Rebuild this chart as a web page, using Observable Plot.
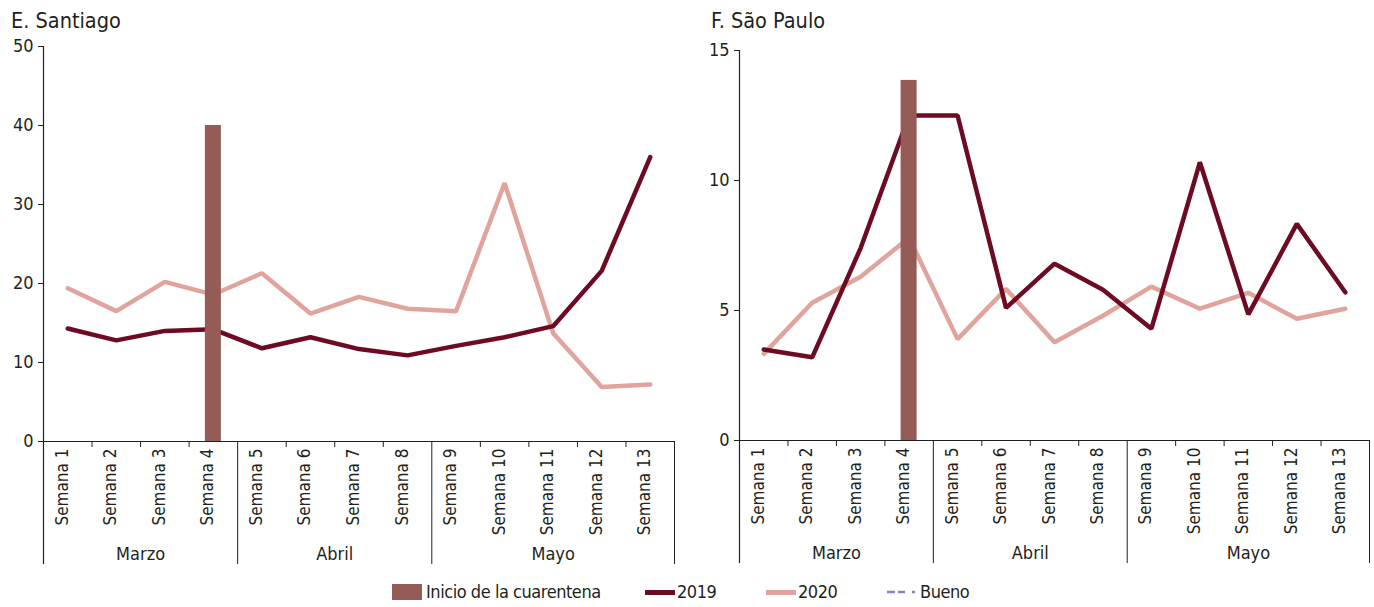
<!DOCTYPE html>
<html>
<head>
<meta charset="utf-8">
<script src="https://cdn.jsdelivr.net/npm/d3@7"></script>
<script src="https://cdn.jsdelivr.net/npm/@observablehq/plot@0.6"></script>
<style>
  html, body { margin: 0; padding: 0; background: #fff; }
  body { font-family: 'DejaVu Sans Condensed', 'DejaVu Sans', sans-serif; font-stretch: condensed; color: #231f20; }
  #wrap { position: relative; width: 1374px; height: 607px; overflow: hidden; }
  .panel { position: absolute; top: 0; }
  .title { position: absolute; top: 8px; font-size: 21.5px; white-space: nowrap; }
  .leg { position: absolute; font-size: 18px; letter-spacing: -0.45px; white-space: nowrap; line-height: 20px; top: 582px; }
</style>
</head>
<body>
<div id="wrap">
  <div class="title" style="left:11px">E. Santiago</div>
  <div class="title" style="left:711px">F. São Paulo</div>
</div>
<script>
// ---- Data ----
const semanas = ["Semana 1","Semana 2","Semana 3","Semana 4","Semana 5","Semana 6","Semana 7",
                 "Semana 8","Semana 9","Semana 10","Semana 11","Semana 12","Semana 13"];
const meses = ["Marzo", "Abril", "Mayo"];
const semanasPorMes = [4, 4, 5];

const santiago2019 = [14.3, 12.8, 14.0, 14.2, 11.8, 13.2, 11.7, 10.9, 12.1, 13.2, 14.6, 21.6, 36.0];
const santiago2020 = [19.4, 16.5, 20.2, 18.6, 21.3, 16.2, 18.3, 16.8, 16.5, 32.7, 13.7, 6.9, 7.2];
const saoPaulo2019 = [3.5, 3.2, 7.4, 12.5, 12.5, 5.1, 6.8, 5.8, 4.3, 10.7, 4.85, 8.33, 5.7];
const saoPaulo2020 = [3.33, 5.3, 6.3, 7.8, 3.9, 5.83, 3.78, 4.8, 5.92, 5.07, 5.68, 4.68, 5.07];

const cuarentenaSemana = "Semana 4";
const cuarentenaSantiago = 40;
const cuarentenaSaoPaulo = 13.85;

const yTicksSantiago = [0, 10, 20, 30, 40, 50];
const yTicksSaoPaulo = [0, 5, 10, 15];

const legendLabels = ["Inicio de la cuarentena", "2019", "2020", "Bueno"];

// ---- Styles ----
const C2019 = "#6d0b22";
const C2020 = "#e0a49c";
const CBAR = "#955c57";
const CBUENO = "#8c80c8";
const INK = "#231f20";
const FONT = "'DejaVu Sans Condensed', 'DejaVu Sans', sans-serif";

function panel({v2019, v2020, bar, yMax, yTicks, left, ml, mr, mt, y0}) {
  const W = 687, H = 570;
  const mb = H - y0;
  const plotH = y0 - mt;
  const bw = (W - ml - mr) / semanas.length;
  const rows = semanas.map((s, i) => ({semana: s, v2019: v2019[i], v2020: v2020[i]}));
  const monthStarts = [];
  const monthMids = [];
  let k = 0;
  meses.forEach((m, i) => {
    monthStarts.push(semanas[k]);
    const n = semanasPorMes[i];
    monthMids.push({mes: m, semana: semanas[k + Math.floor(n / 2) - (n % 2 === 0 ? 1 : 0)], even: n % 2 === 0});
    k += n;
  });
  const minorTicks = semanas.filter(s => !monthStarts.includes(s));

  const chart = Plot.plot({
    width: W, height: H,
    marginLeft: ml, marginRight: mr, marginTop: mt, marginBottom: mb,
    style: {fontFamily: FONT, fontStretch: "condensed", color: INK, background: "transparent", overflow: "visible"},
    x: {type: "band", domain: semanas, padding: 0, round: false, axis: null},
    y: {domain: [0, yMax], axis: null},
    marks: [
      Plot.axisY({ticks: yTicks, tickSize: 5, tickPadding: 5, fontSize: 18, label: null, stroke: INK, fill: INK}),
      // axis line at y = 0
      Plot.ruleY([0], {stroke: INK, strokeWidth: 1.2}),
      // y axis line + first separator
      Plot.ruleX([monthStarts[0]], {x: d => d, dx: -bw / 2, insetBottom: -123, stroke: INK, strokeWidth: 1.2}),
      // month separators below axis
      Plot.ruleX(monthStarts.slice(1), {x: d => d, dx: -bw / 2, insetTop: plotH, insetBottom: -123, stroke: INK, strokeWidth: 1}),
      Plot.ruleX([semanas[semanas.length - 1]], {x: d => d, dx: bw / 2, insetTop: plotH, insetBottom: -123, stroke: INK, strokeWidth: 1}),
      // minor ticks between weeks
      Plot.ruleX(minorTicks, {x: d => d, dx: -bw / 2, insetTop: plotH, insetBottom: -6, stroke: INK, strokeWidth: 1}),
      // lines
      Plot.lineY(rows, {x: "semana", y: "v2020", stroke: C2020, strokeWidth: 4.5, strokeLinejoin: "miter"}),
      Plot.lineY(rows, {x: "semana", y: "v2019", stroke: C2019, strokeWidth: 4.5, strokeLinejoin: "miter"}),
      // quarantine bar
      Plot.barY([{semana: cuarentenaSemana, v: bar}], {x: "semana", y: "v", fill: CBAR, insetLeft: (bw - 16) / 2, insetRight: (bw - 16) / 2}),
      // week labels
      Plot.text(semanas, {x: d => d, text: d => d, rotate: -90, frameAnchor: "bottom", textAnchor: "end", dy: 7, fontSize: 17, fill: INK}),
      // month labels
      Plot.text(monthMids.filter(d => d.even), {x: "semana", text: "mes", frameAnchor: "bottom", dx: bw / 2, dy: 118, fontSize: 18, fill: INK}),
      Plot.text(monthMids.filter(d => !d.even), {x: "semana", text: "mes", frameAnchor: "bottom", dy: 118, fontSize: 18, fill: INK})
    ]
  });
  chart.classList.add("panel");
  chart.style.left = left + "px";
  return chart;
}

const wrap = document.getElementById("wrap");
wrap.appendChild(panel({v2019: santiago2019, v2020: santiago2020, bar: cuarentenaSantiago, yMax: 50, yTicks: yTicksSantiago,
  left: 0, ml: 43, mr: 13, mt: 46, y0: 441}));
wrap.appendChild(panel({v2019: saoPaulo2019, v2020: saoPaulo2020, bar: cuarentenaSaoPaulo, yMax: 15, yTicks: yTicksSaoPaulo,
  left: 687, ml: 52, mr: 5, mt: 50, y0: 440}));

// ---- Legend ----
function addSwatch(style, html = "") {
  const d = document.createElement("div");
  d.innerHTML = html;
  Object.assign(d.style, {position: "absolute"}, style);
  wrap.appendChild(d);
}
function addLabel(text, left) {
  const d = document.createElement("div");
  d.className = "leg";
  d.textContent = text;
  d.style.left = left + "px";
  wrap.appendChild(d);
}
addSwatch({left: "392px", top: "584px", width: "30px", height: "16px", background: CBAR});
addLabel(legendLabels[0], 426);
addSwatch({left: "645px", top: "590px", width: "30px", height: "5px", background: C2019});
addLabel(legendLabels[1], 677);
addSwatch({left: "766px", top: "590px", width: "30px", height: "5px", background: C2020});
addLabel(legendLabels[2], 798);
addSwatch({left: "887px", top: "589px"},
  `<svg width="32" height="6" style="display:block"><line x1="0" y1="3" x2="31" y2="3" stroke="${CBUENO}" stroke-width="2.5" stroke-dasharray="8,3,7,7,3,100"/></svg>`);
addLabel(legendLabels[3], 920);
</script>
</body>
</html>
